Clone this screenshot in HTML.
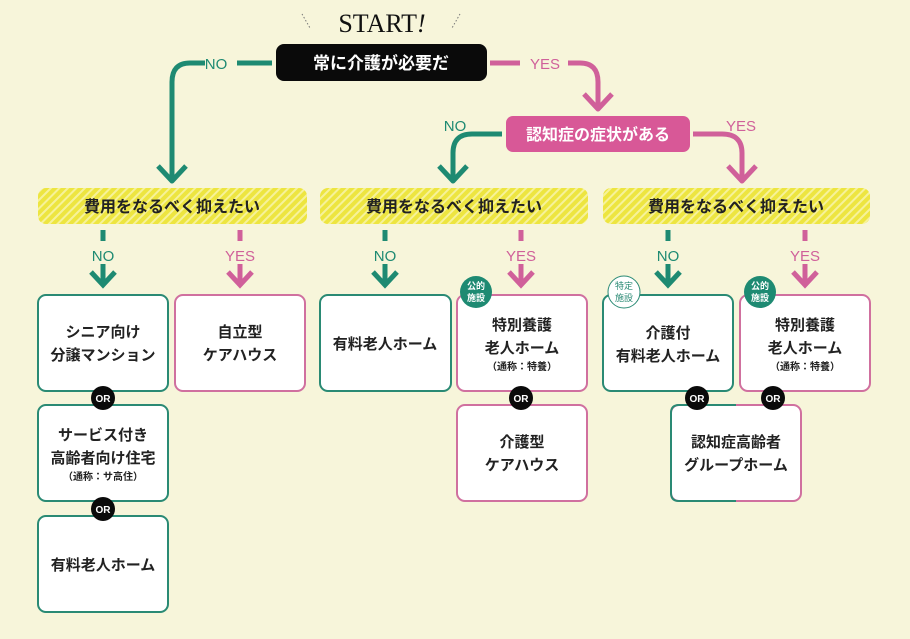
<!DOCTYPE html>
<html><head><meta charset="utf-8"><style>
html,body{margin:0;padding:0;background:#f7f5da;}
svg{display:block}
text{font-family:"Liberation Sans","Noto Sans CJK JP",sans-serif;font-weight:bold;}
.b{fill:#222;font-size:15px;text-anchor:middle}
.s{fill:#222;font-size:10px;text-anchor:middle}
.tl{fill:#1e8a72;font-size:15px;text-anchor:middle;font-weight:normal}
.pl{fill:#d0609a;font-size:15px;text-anchor:middle;font-weight:normal}
</style></head><body>
<svg width="910" height="639" viewBox="0 0 910 639" xmlns="http://www.w3.org/2000/svg">
<defs>
<pattern id="h" width="6" height="6" patternUnits="userSpaceOnUse" patternTransform="rotate(45)">
<rect width="6" height="6" fill="#ede540"/><rect width="2" height="6" fill="#f6f29a"/>
</pattern>
</defs>
<rect width="910" height="639" fill="#f7f5da"/>
<text x="382" y="32" style="font-family:'Liberation Serif',serif;font-size:26px;font-weight:normal" text-anchor="middle" fill="#111">START<tspan font-style="italic">!</tspan></text>
<g stroke="#777" stroke-width="1" stroke-dasharray="1.5 2"><line x1="302" y1="14" x2="310" y2="28"/><line x1="460" y1="14" x2="452" y2="28"/></g>
<rect x="276" y="44" width="211" height="37" rx="8" fill="#0a0a0a"/>
<text x="381" y="69" fill="#fff" style="font-size:17px" text-anchor="middle">常に介護が必要だ</text>
<g fill="none" stroke-width="5" stroke-linecap="butt" stroke-linejoin="round">
<path d="M272 63 H237 M205 63 H190 Q172 63 172 82 V180" stroke="#1e8a72"/>
<path d="M158 166 L172 181 L186 166" stroke="#1e8a72"/>
<path d="M490 63 H520 M568 63 H580 Q598 63 598 82 V108" stroke="#d0609a"/>
<path d="M584 94 L598 109 L612 94" stroke="#d0609a"/>
<path d="M502 134 H472 Q453 134 453 153 V180" stroke="#1e8a72"/>
<path d="M439 166 L453 181 L467 166" stroke="#d0609a" style="stroke:#1e8a72"/>
<path d="M693 134 H722 Q742 134 742 153 V180" stroke="#d0609a"/>
<path d="M728 166 L742 181 L756 166" stroke="#d0609a"/>
</g>
<text x="216" y="69" class="tl">NO</text>
<text x="545" y="69" class="pl">YES</text>
<rect x="506" y="116" width="184" height="36" rx="7" fill="#d85897"/>
<text x="598" y="140" fill="#fff" style="font-size:16px" text-anchor="middle">認知症の症状がある</text>
<text x="455" y="131" class="tl">NO</text>
<text x="741" y="131" class="pl">YES</text>
<g>
<rect x="38" y="188" width="269" height="36" rx="8" fill="url(#h)"/>
<rect x="320" y="188" width="268" height="36" rx="8" fill="url(#h)"/>
<rect x="603" y="188" width="267" height="36" rx="8" fill="url(#h)"/>
<text x="172" y="212" class="b" style="font-size:16px">費用をなるべく抑えたい</text>
<text x="454" y="212" class="b" style="font-size:16px">費用をなるべく抑えたい</text>
<text x="736" y="212" class="b" style="font-size:16px">費用をなるべく抑えたい</text>
</g>
<g fill="none" stroke-width="5">
<g stroke="#1e8a72"><path d="M103 230 V241 M103 264 V284 M91 272 L103 285 L115 272"/><path d="M385 230 V241 M385 264 V284 M373 272 L385 285 L397 272"/><path d="M668 230 V241 M668 264 V284 M656 272 L668 285 L680 272"/></g>
<g stroke="#d0609a"><path d="M240 230 V241 M240 264 V284 M228 272 L240 285 L252 272"/><path d="M521 230 V241 M521 264 V284 M509 272 L521 285 L533 272"/><path d="M805 230 V241 M805 264 V284 M793 272 L805 285 L817 272"/></g>
</g>
<text x="103" y="261" class="tl">NO</text><text x="240" y="261" class="pl">YES</text>
<text x="385" y="261" class="tl">NO</text><text x="521" y="261" class="pl">YES</text>
<text x="668" y="261" class="tl">NO</text><text x="805" y="261" class="pl">YES</text>
<g fill="#fff" stroke-width="2">
<rect x="38" y="295" width="130" height="96" rx="8" stroke="#2a8a74"/>
<rect x="175" y="295" width="130" height="96" rx="8" stroke="#d0709f"/>
<rect x="320" y="295" width="131" height="96" rx="8" stroke="#2a8a74"/>
<rect x="457" y="295" width="130" height="96" rx="8" stroke="#d0709f"/>
<rect x="603" y="295" width="130" height="96" rx="8" stroke="#2a8a74"/>
<rect x="740" y="295" width="130" height="96" rx="8" stroke="#d0709f"/>
<rect x="38" y="405" width="130" height="96" rx="8" stroke="#2a8a74"/>
<rect x="457" y="405" width="130" height="96" rx="8" stroke="#d0709f"/>
<rect x="38" y="516" width="130" height="96" rx="8" stroke="#2a8a74"/>
<rect x="671" y="405" width="130" height="96" rx="8" stroke="#d0709f"/>
</g>
<path d="M736 405 H679 Q671 405 671 413 V493 Q671 501 679 501 H736" fill="none" stroke="#2a8a74" stroke-width="2"/>
<text x="103" y="337" class="b">シニア向け</text><text x="103" y="360" class="b">分譲マンション</text>
<text x="240" y="337" class="b">自立型</text><text x="240" y="360" class="b">ケアハウス</text>
<text x="385" y="349" class="b">有料老人ホーム</text>
<text x="522" y="330" class="b">特別養護</text><text x="522" y="353" class="b">老人ホーム</text><text x="522" y="370" class="s">（通称：特養）</text>
<text x="668" y="338" class="b">介護付</text><text x="668" y="361" class="b">有料老人ホーム</text>
<text x="805" y="330" class="b">特別養護</text><text x="805" y="353" class="b">老人ホーム</text><text x="805" y="370" class="s">（通称：特養）</text>
<text x="103" y="440" class="b">サービス付き</text><text x="103" y="463" class="b">高齢者向け住宅</text><text x="103" y="480" class="s">（通称：サ高住）</text>
<text x="522" y="447" class="b">介護型</text><text x="522" y="470" class="b">ケアハウス</text>
<text x="736" y="447" class="b">認知症高齢者</text><text x="736" y="470" class="b">グループホーム</text>
<text x="103" y="570" class="b">有料老人ホーム</text>
<g>
<circle cx="103" cy="398" r="12" fill="#0a0a0a"/><circle cx="103" cy="509" r="12" fill="#0a0a0a"/>
<circle cx="521" cy="398" r="12" fill="#0a0a0a"/><circle cx="697" cy="398" r="12" fill="#0a0a0a"/><circle cx="773" cy="398" r="12" fill="#0a0a0a"/>
</g>
<g fill="#fff" style="font-family:'Liberation Serif',serif;font-size:10px" text-anchor="middle">
<text x="103" y="402">OR</text><text x="103" y="513">OR</text><text x="521" y="402">OR</text><text x="697" y="402">OR</text><text x="773" y="402">OR</text>
</g>
<circle cx="476" cy="292" r="16" fill="#1e8a72"/>
<circle cx="760" cy="292" r="16" fill="#1e8a72"/>
<circle cx="624" cy="292" r="16" fill="#fff" stroke="#2a8a74" stroke-width="1"/>
<g style="font-size:9px" text-anchor="middle">
<text x="476" y="289" fill="#fff">公的</text><text x="476" y="301" fill="#fff">施設</text>
<text x="760" y="289" fill="#fff">公的</text><text x="760" y="301" fill="#fff">施設</text>
<text x="624" y="289" fill="#2a8a74" style="font-weight:normal">特定</text><text x="624" y="301" fill="#2a8a74" style="font-weight:normal">施設</text>
</g>
</svg>
</body></html>
